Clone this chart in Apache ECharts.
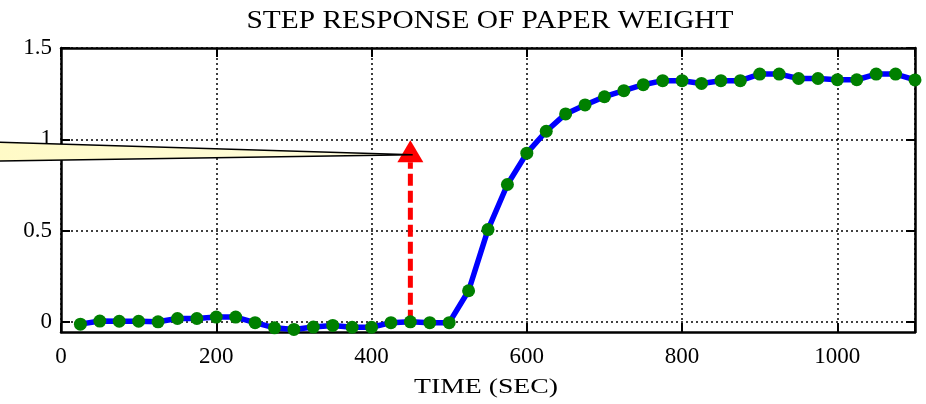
<!DOCTYPE html>
<html>
<head>
<meta charset="utf-8">
<script src="https://cdn.jsdelivr.net/npm/echarts@6/dist/echarts.min.js"></script>
<style>
  html, body { margin: 0; padding: 0; background: #fff; }
  #main { width: 926px; height: 404px; }
</style>
</head>
<body>
<div id="main"></div>
<script>
// sample times (sec)
var times = [25, 50, 75, 100, 125, 150, 175, 200, 225, 250, 275, 300, 325, 350, 375, 400,
  425, 450, 475, 500, 525, 550, 575, 600, 625, 650, 675, 700, 725, 750, 775, 800,
  825, 850, 875, 900, 925, 950, 975, 1000, 1025, 1050, 1075, 1100];
// measured response
var response = [-0.013, 0.004, 0.003, 0.003, 0.0, 0.018, 0.018, 0.026, 0.026, -0.005, -0.033, -0.042,
  -0.029, -0.02, -0.03, -0.03, -0.005, 0.0, -0.005, -0.005, 0.17, 0.505, 0.752, 0.924,
  1.044, 1.139, 1.188, 1.233, 1.266, 1.299, 1.321, 1.321, 1.306, 1.321, 1.321, 1.357,
  1.357, 1.333, 1.333, 1.326, 1.326, 1.357, 1.357, 1.325];
var xTicks = [0, 200, 400, 600, 800, 1000];
var yTicks = [0, 0.5, 1, 1.5];
// red arrow: [time, from, to]
var arrow = [450, 0, 0.995];
// callout pointer tip [time, value]
var calloutTip = [453, 0.915];

var FONT = '"Liberation Serif", "Times New Roman", serif';
var chart = echarts.init(document.getElementById('main'));

var seriesData = times.map(function (t, i) { return [t, response[i]]; });

var axisLine = { show: true, onZero: false, lineStyle: { color: '#000', width: 2.5 } };
var tickStyle = { color: '#000', width: 2 };
var gridLine = { show: true, lineStyle: { color: '#000', width: 1.5, type: [2, 3] } };
var plainNum = function (v) { return String(v); };

var option = {
  animation: false,
  backgroundColor: '#fff',
  grid: { left: 61, right: 11, top: 48, bottom: 72 },
  graphic: [{
    type: 'text',
    x: 490, y: 21,
    scaleX: 1.13, originX: 0, originY: 0,
    style: {
      text: 'STEP RESPONSE OF PAPER WEIGHT',
      align: 'center', verticalAlign: 'middle',
      font: '26px ' + FONT, fill: '#000'
    }
  }, {
    type: 'text',
    x: 486, y: 387,
    scaleX: 1.26, originX: 0, originY: 0,
    style: {
      text: 'TIME (SEC)',
      align: 'center', verticalAlign: 'middle',
      font: '22px ' + FONT, fill: '#000'
    }
  }],
  xAxis: [{
    type: 'value', position: 'bottom', min: 0, max: 1100, interval: 200,
    axisLine: axisLine,
    axisTick: { show: true, inside: true, length: 9, lineStyle: tickStyle },
    splitLine: gridLine,
    axisLabel: {
      customValues: xTicks, formatter: plainNum, margin: 13,
      color: '#000', fontSize: 23, fontFamily: FONT
    }
  }, {
    type: 'value', position: 'top', min: 0, max: 1100, interval: 200,
    axisLine: axisLine,
    axisTick: { show: true, inside: true, length: 9, lineStyle: tickStyle },
    axisLabel: { show: false }, splitLine: { show: false }
  }],
  yAxis: [{
    type: 'value', position: 'left', min: -0.056, max: 1.5,
    axisLine: axisLine,
    axisTick: { show: true, inside: true, length: 9, customValues: yTicks, lineStyle: tickStyle },
    splitLine: gridLine,
    axisLabel: {
      customValues: yTicks, formatter: plainNum, margin: 9,
      color: '#000', fontSize: 23, fontFamily: FONT
    }
  }, {
    type: 'value', position: 'right', min: -0.056, max: 1.5,
    axisLine: axisLine,
    axisTick: { show: true, inside: true, length: 9, customValues: yTicks, lineStyle: tickStyle },
    axisLabel: { show: false }, splitLine: { show: false }
  }],
  series: [{
    type: 'custom',
    z: 1,
    clip: false,
    data: [arrow],
    renderItem: function (params, api) {
      var base = api.coord([api.value(0), api.value(1)]);
      var tip = api.coord([api.value(0), api.value(2)]);
      var h = 22, w = 26;
      return {
        type: 'group',
        children: [{
          type: 'line',
          shape: { x1: base[0], y1: base[1], x2: tip[0], y2: tip[1] + h },
          style: { stroke: '#ff0000', lineWidth: 5, lineDash: [12, 5] }
        }, {
          type: 'polygon',
          shape: { points: [[tip[0], tip[1]], [tip[0] - w / 2, tip[1] + h], [tip[0] + w / 2, tip[1] + h]] },
          style: { fill: '#ff0000' }
        }]
      };
    }
  }, {
    type: 'line',
    z: 2,
    clip: false,
    data: seriesData,
    lineStyle: { color: '#0000ff', width: 5.5 },
    symbol: 'circle',
    symbolSize: 13,
    itemStyle: { color: '#008000' }
  }, {
    type: 'custom',
    z: 10,
    clip: false,
    data: [calloutTip],
    renderItem: function (params, api) {
      var p = api.coord([api.value(0), api.value(1)]);
      var left = -10;
      return {
        type: 'polygon',
        shape: { points: [[left, p[1] - 12.9], [p[0], p[1]], [left, p[1] + 6.5]] },
        style: {
          fill: new echarts.graphic.LinearGradient(0, 0, 1, 0, [
            { offset: 0, color: '#fffac6' }, { offset: 1, color: '#fffde0' }
          ]),
          stroke: '#000', lineWidth: 1.5
        }
      };
    }
  }]
};

chart.setOption(option);
</script>
</body>
</html>
